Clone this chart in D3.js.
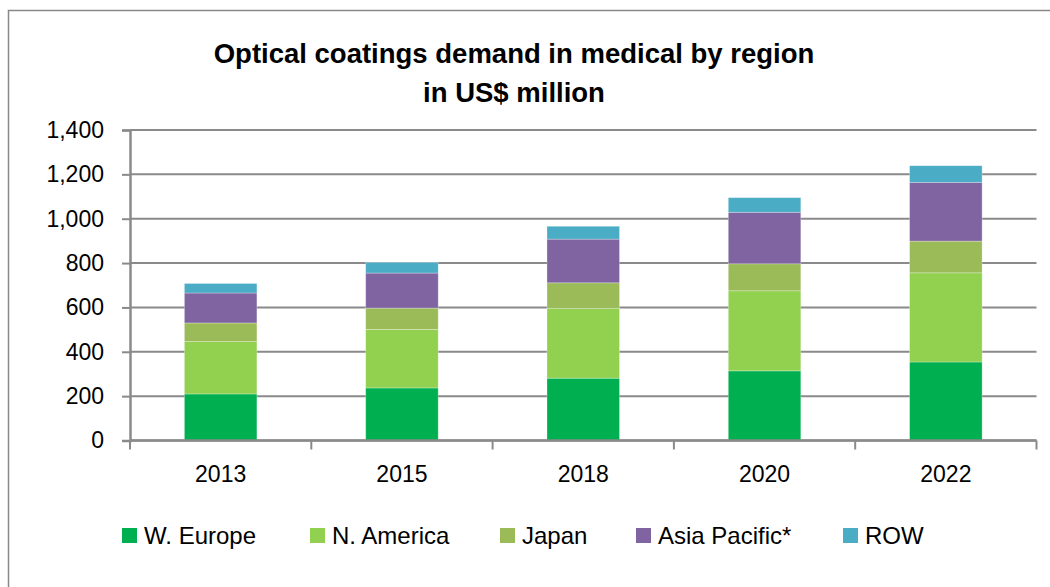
<!DOCTYPE html>
<html>
<head>
<meta charset="utf-8">
<script src="https://cdn.jsdelivr.net/npm/d3@7"></script>
<style>
  html, body { margin: 0; padding: 0; background: #fff; }
  svg { display: block; }
  text { font-family: "Liberation Sans", Arial, sans-serif; fill: #000; }
</style>
</head>
<body>
<script>
// ---- data ----
const years = ["2013", "2015", "2018", "2020", "2022"];
const seriesNames = ["W. Europe", "N. America", "Japan", "Asia Pacific*", "ROW"];
const wEurope   = [210, 237, 281, 314, 354];
const nAmerica  = [236, 264, 315, 361, 402];
const japan     = [84, 96, 115, 122, 143];
const asiaPac   = [135, 158, 197, 232, 265];
const row       = [43, 48, 58, 66, 75];
const yTicks    = [0, 200, 400, 600, 800, 1000, 1200, 1400];
const colors    = ["#00B050", "#92D050", "#9BBB59", "#8064A2", "#4BACC6"];
const titleLines = ["Optical coatings demand in medical by region", "in US$ million"];

const seriesValues = [wEurope, nAmerica, japan, asiaPac, row];
const table = years.map((yr, i) => {
  const o = { year: yr };
  seriesNames.forEach((s, k) => o[s] = seriesValues[k][i]);
  return o;
});

const W = 1050, H = 587;
const svg = d3.select("body").append("svg").attr("width", W).attr("height", H);

// outer frame
svg.append("rect").attr("x", 8.5).attr("y", 10.5).attr("width", W + 20).attr("height", H + 20)
  .attr("fill", "none").attr("stroke", "#888").attr("stroke-width", 1.5);

// title
svg.append("g").selectAll("text").data(titleLines).join("text")
  .attr("x", 514).attr("y", (d, i) => 63 + i * 39)
  .attr("text-anchor", "middle")
  .style("font-weight", "bold").style("font-size", "27.5px")
  .text(d => d);

const pLeft = 130, pRight = 1036.5, pTop = 130, pBottom = 440.5;
const x = d3.scaleBand().domain(years).range([pLeft, pRight]).paddingInner(0.6).paddingOuter(0.3);
const y = d3.scaleLinear().domain([0, 1400]).range([pBottom, pTop]);

const gridColor = "#8a8a8a";

// gridlines
svg.append("g").selectAll("line").data(yTicks).join("line")
  .attr("x1", pLeft).attr("x2", pRight)
  .attr("y1", d => y(d)).attr("y2", d => y(d))
  .attr("stroke", gridColor).attr("stroke-width", 2);

// stacked bars
const stack = d3.stack().keys(seriesNames);
const layers = stack(table);
svg.append("g").selectAll("g").data(layers).join("g")
  .attr("fill", (d, i) => colors[i])
  .selectAll("rect").data(d => d).join("rect")
  .attr("x", d => x(d.data.year))
  .attr("width", x.bandwidth())
  .attr("y", d => y(d[1]))
  .attr("height", d => y(d[0]) - y(d[1]))
  .attr("stroke", "rgba(255,255,255,0.35)").attr("stroke-width", 0.8);

// y axis
const yAxis = d3.axisLeft(y).tickValues(yTicks).tickSize(8).tickPadding(18)
  .tickFormat(d3.format(","));
const gy = svg.append("g").attr("transform", `translate(${pLeft},0)`).call(yAxis);
gy.select(".domain").attr("stroke", gridColor).attr("stroke-width", 2.5);
gy.selectAll(".tick line").attr("stroke", gridColor).attr("stroke-width", 2);
gy.selectAll(".tick text").style("font-size", "23px").style("font-family", "Liberation Sans, Arial, sans-serif").attr("fill", "#000");

// x axis
const xAxis = d3.axisBottom(x).tickSize(0).tickPadding(25);
const gx = svg.append("g").attr("transform", `translate(0,${pBottom})`).call(xAxis);
gx.select(".domain").remove();
gx.selectAll(".tick text").style("font-size", "23px").style("font-family", "Liberation Sans, Arial, sans-serif").attr("fill", "#000");
svg.append("line").attr("x1", pLeft).attr("x2", pRight).attr("y1", pBottom).attr("y2", pBottom)
  .attr("stroke", gridColor).attr("stroke-width", 2.5);
const step = x.step();
const bounds = years.map(yr => x(yr) + x.bandwidth() / 2 - step / 2).concat([x(years[years.length - 1]) + x.bandwidth() / 2 + step / 2]);
svg.append("g").selectAll("line").data(bounds).join("line")
  .attr("x1", d => d).attr("x2", d => d).attr("y1", pBottom).attr("y2", pBottom + 9)
  .attr("stroke", gridColor).attr("stroke-width", 2);

// legend
const legendX = [122, 310, 500, 636, 843];
const lg = svg.append("g").selectAll("g").data(seriesNames).join("g")
  .attr("transform", (d, i) => `translate(${legendX[i]},535)`);
lg.append("rect").attr("x", 0).attr("y", -7).attr("width", 15).attr("height", 15)
  .attr("fill", (d, i) => colors[i]);
lg.append("text").attr("x", 22).attr("y", 0).attr("dy", "0.36em")
  .style("font-size", "24px").text(d => d);
</script>
</body>
</html>
